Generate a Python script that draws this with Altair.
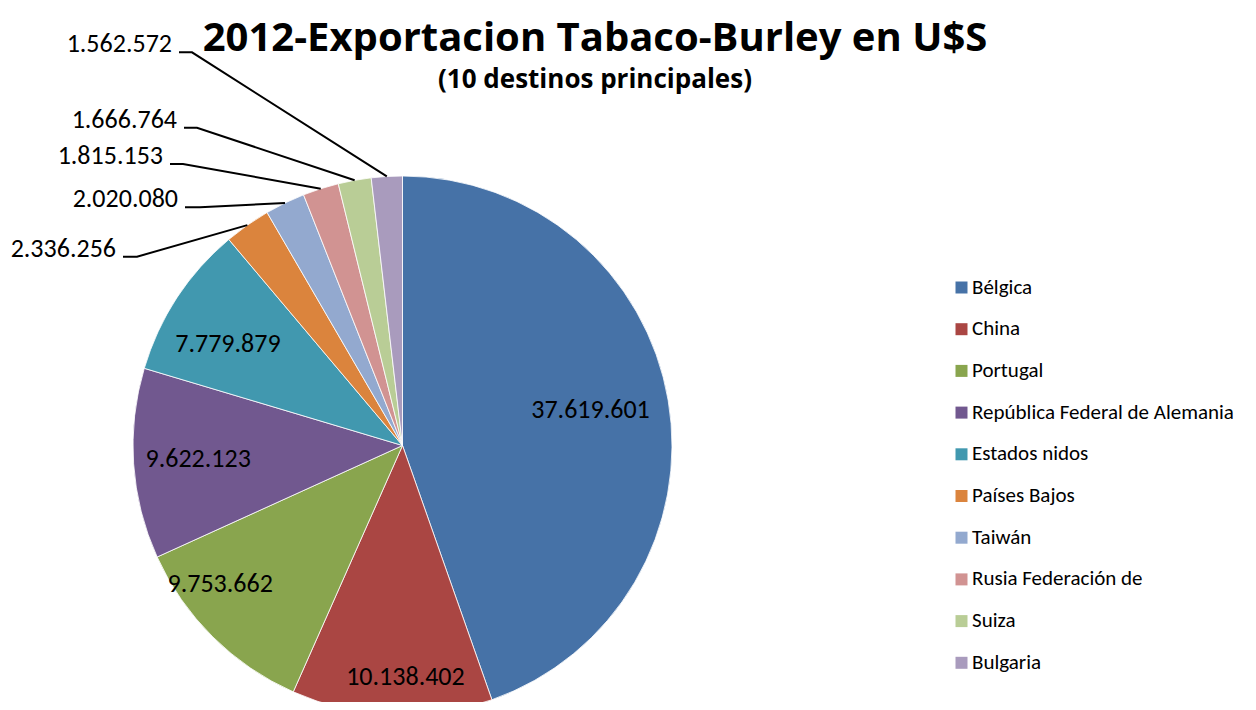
import math
import altair as alt
import pandas as pd

# ---------------- data ----------------
paises = ["Bélgica", "China", "Portugal", "República Federal de Alemania",
          "Estados nidos", "Países Bajos", "Taiwán", "Rusia Federación de",
          "Suiza", "Bulgaria"]
valores = [37619601, 10138402, 9753662, 9622123, 7779879,
           2336256, 2020080, 1815153, 1666764, 1562572]
colores = ["#4672A7", "#AA4643", "#89A54E", "#71588F", "#4198AF",
           "#DB843D", "#93A9CF", "#D19392", "#B9CD96", "#A99BBD"]

titulo = "2012-Exportacion Tabaco-Burley en U$S"
subtitulo = "(10  destinos principales)"

# ---------------- layout (plot-area pixels) ----------------
FONT = "Carlito, Calibri, Lato"
TFONT = "Open Sans"
W, H = 1240, 694
CX, CY, R = 394.5, 437.5, 269.5
TITLE_X, TITLE_Y, SUB_Y = 587, 43, 80
# inside labels: radial fraction and angle tweak (deg) for the 5 big slices
IN_R = [0.71, 0.86, 0.85, 0.76, 0.75]
IN_DA = [-1, -3, 8, 0, -3]
# outside callouts for the 5 small slices: (segment start x, segment end x, y)
CALLOUT = [(115, 129, 248.7), (177, 192, 199.3), (162, 175, 156),
           (176, 189, 119.7), (171, 184, 44.3)]

total = sum(valores)
etiquetas = [f"{v:,}".replace(",", ".") for v in valores]

rows = []
acc = 0.0
for i, (p, v) in enumerate(zip(paises, valores)):
    mid = (acc + v / 2) / total * 2 * math.pi
    acc += v
    rows.append(dict(pais=p, valor=v, idx=i, label=etiquetas[i], mid=mid))
df = pd.DataFrame(rows)

inner, lines, outer = [], [], []
for i, r in df.iterrows():
    if i < 5:
        a = r["mid"] + math.radians(IN_DA[i])
        rr = R * IN_R[i]
        inner.append(dict(label=r["label"], x=CX + rr * math.sin(a), y=CY - rr * math.cos(a)))
    else:
        x0, x1, yy = CALLOUT[i - 5]
        ex = CX + R * math.sin(r["mid"])
        ey = CY - R * math.cos(r["mid"])
        lines += [dict(pais=r["pais"], o=0, x=x0, y=yy),
                  dict(pais=r["pais"], o=1, x=x1, y=yy),
                  dict(pais=r["pais"], o=2, x=ex, y=ey)]
        outer.append(dict(label=r["label"], x=x0 - 7, y=yy))

titles = pd.DataFrame([dict(t=titulo, x=TITLE_X, y=TITLE_Y, s=40),
                       dict(t=subtitulo, x=TITLE_X, y=SUB_Y, s=26)])

pie = alt.Chart(df).mark_arc(outerRadius=R, stroke="white", strokeWidth=0.8).encode(
    theta=alt.Theta("valor:Q", stack=True),
    order=alt.Order("idx:Q"),
    color=alt.Color("pais:N", sort=paises,
                    scale=alt.Scale(domain=paises, range=colores),
                    legend=alt.Legend(orient="none", legendX=943, legendY=269,
                                      title=None, symbolType="square", symbolSize=144,
                                      symbolStrokeWidth=0, labelFontSize=21,
                                      labelFont=FONT, labelColor="black",
                                      labelOffset=0, rowPadding=19.7, padding=0,
                                      labelLimit=400)),
    x=alt.value(CX), y=alt.value(CY),
)

inner_txt = alt.Chart(pd.DataFrame(inner)).mark_text(
    font=FONT, fontSize=26, color="black", align="center", baseline="middle"
).encode(x=alt.X("x:Q", scale=None), y=alt.Y("y:Q", scale=None), text="label:N")

leader = alt.Chart(pd.DataFrame(lines)).mark_line(color="black", strokeWidth=2).encode(
    x=alt.X("x:Q", scale=None), y=alt.Y("y:Q", scale=None),
    detail="pais:N", order="o:Q")

outer_txt = alt.Chart(pd.DataFrame(outer)).mark_text(
    font=FONT, fontSize=26, color="black", align="right", baseline="alphabetic"
).encode(x=alt.X("x:Q", scale=None), y=alt.Y("y:Q", scale=None), text="label:N")

title_txt = alt.Chart(titles).mark_text(
    font=TFONT, fontWeight="bold", color="black", align="center", baseline="alphabetic"
).encode(x=alt.X("x:Q", scale=None), y=alt.Y("y:Q", scale=None), text="t:N",
         size=alt.Size("s:Q", scale=None, legend=None))

chart = alt.layer(pie, leader, inner_txt, outer_txt, title_txt).properties(
    width=W, height=H,
    padding=0,
    background="white",
    autosize=alt.AutoSizeParams(type="none"),
).configure_view(strokeWidth=0)

chart.save("out.html", embed_options={"renderer": "svg", "actions": False})
